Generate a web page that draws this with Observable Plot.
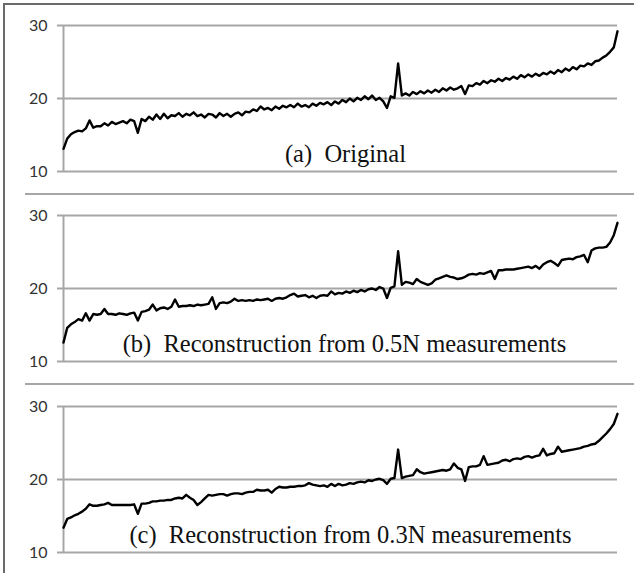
<!DOCTYPE html>
<html>
<head>
<meta charset="utf-8">
<script src="https://cdn.jsdelivr.net/npm/d3@7"></script>
<script src="https://cdn.jsdelivr.net/npm/@observablehq/plot@0.6"></script>
<style>
  html, body { margin: 0; padding: 0; background: #fff; }
  #fig { position: relative; width: 634px; height: 573px; overflow: hidden; background: #fff; }
  .panel { position: absolute; left: 0; }
  .panel svg { background: transparent !important; }
  .hline { position: absolute; height: 2px; background: #a6a6a6; z-index: 5; }
  .frame-l { position: absolute; left: 3px; top: 3px; width: 2px; height: 580px; background: #6a6a6a; z-index: 5; }
  .frame-t { position: absolute; left: 3px; top: 3px; width: 640px; height: 2px; background: #6a6a6a; z-index: 5; }
</style>
</head>
<body>
<div id="fig">
  <div class="frame-l"></div>
  <div class="frame-t"></div>
  <div class="hline" style="left:25px; top:193px; width:620px;"></div>
  <div class="hline" style="left:25px; top:383px; width:620px;"></div>
</div>
<script>
// y axis ticks
const yTicks = [10, 20, 30];

// panel labels
const labels = [
  "(a)\u00a0\u00a0Original",
  "(b)\u00a0\u00a0Reconstruction from 0.5N measurements",
  "(c)\u00a0\u00a0Reconstruction from 0.3N measurements"
];

// (a) Original
const original = [
  13.1, 14.5, 15.1, 15.4, 15.6, 15.5, 15.9, 17.0, 16.0, 16.2,
  16.2, 16.6, 16.3, 16.8, 16.5, 16.7, 16.9, 16.6, 17.1, 16.9,
  15.3, 17.2, 16.9, 17.5, 17.1, 17.8, 17.2, 17.9, 17.3, 17.7,
  17.6, 18.0, 17.5, 17.9, 17.7, 18.1, 17.6, 17.8, 17.4, 17.9,
  17.8, 17.4, 18.0, 17.6, 17.9, 17.5, 17.9, 18.1, 17.7, 18.2,
  18.1, 18.5, 18.3, 18.9, 18.5, 18.7, 18.4, 18.9, 18.6, 19.0,
  18.8, 19.1, 18.8, 19.3, 18.9, 19.1, 18.8, 19.3, 19.0, 19.4,
  19.2, 19.5, 19.1, 19.6, 19.3, 19.8, 19.5, 20.0, 19.6, 20.1,
  19.8, 20.3, 19.9, 20.4, 19.8, 20.1, 19.6, 18.7, 20.3, 20.1,
  24.8, 20.4, 20.7, 20.4, 20.9, 20.6, 21.0, 20.7, 21.1, 20.8,
  21.2, 20.9, 21.4, 21.1, 21.5, 21.2, 21.4, 21.7, 20.6, 21.8,
  21.7, 22.1, 21.9, 22.4, 22.1, 22.5, 22.3, 22.7, 22.4, 22.8,
  22.6, 23.0, 22.7, 23.2, 22.9, 23.3, 23.0, 23.4, 23.1, 23.5,
  23.3, 23.7, 23.4, 23.9, 23.6, 24.1, 23.8, 24.3, 24.0, 24.5,
  24.4, 24.8, 24.6, 25.1, 25.2, 25.6, 25.9, 26.4, 27.0, 29.2
];

// (b) Reconstruction from 0.5N measurements
const recon05 = [
  12.6, 14.6, 15.1, 15.4, 15.8, 15.6, 16.6, 15.6, 16.5, 16.4,
  16.5, 17.2, 16.5, 16.5, 16.4, 16.6, 16.5, 16.4, 16.6, 16.7,
  15.6, 16.8, 16.9, 17.1, 17.8, 17.0, 17.3, 17.4, 17.2, 17.5,
  18.5, 17.5, 17.6, 17.6, 17.7, 17.6, 17.8, 17.7, 17.8, 17.9,
  18.8, 17.2, 18.0, 18.1, 18.0, 18.2, 18.6, 18.3, 18.4, 18.3,
  18.4, 18.3, 18.5, 18.4, 18.5, 18.6, 18.3, 18.6, 18.7, 18.6,
  18.8, 19.1, 19.3, 18.9, 19.0, 19.1, 18.8, 19.0, 18.7, 19.0,
  19.1, 19.0, 19.6, 19.2, 19.4, 19.3, 19.6, 19.4, 19.7, 19.5,
  19.8, 19.6, 19.9, 20.0, 19.8, 20.2, 20.0, 18.7, 20.1, 20.3,
  25.1, 20.5, 20.9, 20.8, 20.6, 21.3, 20.9, 20.7, 20.5, 20.7,
  21.2, 21.4, 21.6, 21.8, 21.6, 21.5, 21.3, 21.4, 21.6, 21.9,
  22.0, 21.9, 22.1, 22.0, 22.2, 22.4, 21.3, 22.5, 22.5, 22.6,
  22.6, 22.6, 22.7, 22.8, 22.9, 23.0, 22.8, 23.1, 22.7, 23.3,
  23.6, 23.8, 23.5, 23.1, 23.9, 24.0, 24.1, 24.0, 24.3, 24.4,
  24.6, 23.6, 25.2, 25.5, 25.6, 25.6, 25.7, 26.3, 27.3, 29.0
];

// (c) Reconstruction from 0.3N measurements
const recon03 = [
  13.4, 14.6, 14.8, 15.1, 15.3, 15.6, 16.0, 16.6, 16.4, 16.4,
  16.5, 16.6, 16.8, 16.5, 16.5, 16.5, 16.5, 16.5, 16.5, 16.6,
  15.3, 16.7, 16.7, 16.8, 17.0, 17.0, 17.1, 17.1, 17.2, 17.2,
  17.4, 17.5, 17.4, 17.9, 17.5, 17.2, 16.5, 16.9, 17.4, 17.9,
  17.8, 17.9, 18.0, 18.0, 17.8, 18.0, 18.1, 18.1, 18.0, 18.2,
  18.3, 18.3, 18.6, 18.5, 18.5, 18.6, 18.2, 18.7, 19.0, 18.9,
  18.9, 19.0, 19.0, 19.1, 19.1, 19.2, 19.5, 19.3, 19.2, 19.1,
  19.2, 19.0, 19.4, 19.1, 19.4, 19.2, 19.3, 19.5, 19.4, 19.6,
  19.7, 19.6, 19.9, 19.8, 20.0, 20.1, 19.9, 19.4, 20.1, 20.2,
  24.1, 20.2, 20.4, 20.5, 20.6, 21.4, 21.0, 20.8, 20.9, 21.0,
  21.1, 21.2, 21.3, 21.2, 21.4, 22.2, 21.6, 21.4, 19.8, 21.7,
  21.8, 21.8, 22.0, 23.2, 22.0, 22.1, 22.2, 22.3, 22.6, 22.7,
  22.5, 22.8, 22.9, 22.8, 23.1, 23.2, 23.0, 23.2, 23.3, 24.2,
  23.3, 23.5, 23.6, 24.5, 23.8, 23.9, 24.0, 24.1, 24.2, 24.3,
  24.5, 24.6, 24.8, 24.9, 25.3, 25.8, 26.3, 26.9, 27.6, 29.0
];

const series = [original, recon05, recon03];
const tops = [0, 190, 381];
const labelDx = [5, 4, 10];

const fig = document.getElementById("fig");
series.forEach((values, k) => {
  const chart = Plot.plot({
    width: 634,
    height: 190,
    marginLeft: 63,
    marginRight: 17,
    marginTop: 25,
    marginBottom: 19,
    style: { background: "transparent", overflow: "visible" },
    x: { domain: [0, values.length - 1], axis: null },
    y: { domain: [10, 30], axis: null },
    marks: [
      Plot.ruleY(yTicks, { stroke: "#a6a6a6", strokeWidth: 2 }),
      Plot.ruleX([0], { y1: 10, y2: 30, stroke: "#a6a6a6", strokeWidth: 2 }),
      Plot.axisY({
        ticks: yTicks, tickSize: 6, tickPadding: 10,
        stroke: "#a6a6a6", strokeWidth: 2,
        fill: "#333", fontSize: 16, fontFamily: "Lato, 'Open Sans', sans-serif",
        label: null
      }),
      Plot.lineY(values, { x: (d, i) => i, y: d => d, stroke: "#000", strokeWidth: 2.4 }),
      Plot.text([labels[k]], {
        text: d => d, frameAnchor: "bottom", dy: -10, dx: labelDx[k],
        fontFamily: "'Liberation Serif', 'DejaVu Serif', serif", fontSize: 24.5, fill: "#111"
      })
    ]
  });
  const wrap = document.createElement("div");
  wrap.className = "panel";
  wrap.style.top = tops[k] + "px";
  wrap.appendChild(chart);
  fig.appendChild(wrap);
});
</script>
</body>
</html>
